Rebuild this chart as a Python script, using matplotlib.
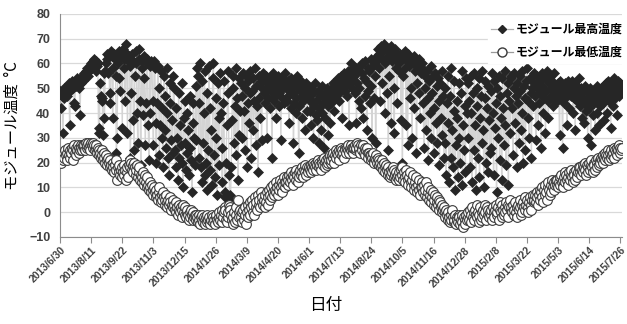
import numpy as np
import pandas as pd
import matplotlib
matplotlib.use("Agg")
from matplotlib import pyplot as plt
from matplotlib.lines import Line2D

plt.rcParams['font.family'] = ['Noto Sans CJK JP', 'DejaVu Sans']

# daily module max temperature (°C), 2013/6/30 - 2015/7/28
tmax_2013 = [49,
    48, 42, 47, 32, 46, 50, 49, 48, 51, 47, 50, 52, 35, 49, 51, 53, 50, 52, 44, 43, 53, 51, 54, 52, 50, 53, 39, 52, 54, 55, 53,
    55, 56, 54, 57, 56, 58, 55, 57, 59, 58, 60, 58, 61, 59, 62, 60, 61, 57, 59, 60, 34, 32, 52, 47, 45, 46, 31, 56, 38, 57, 60,
    62, 64, 56, 63, 44, 48, 65, 63, 38, 58, 64, 62, 55, 24, 30, 60, 65, 54, 49, 63, 65, 34, 66, 62, 58, 45, 68, 64, 32, 61,
    63, 59, 22, 48, 64, 61, 37, 25, 55, 65, 60, 40, 28, 62, 66, 45, 19, 58, 61, 39, 63, 54, 27, 44, 62, 60, 35, 21, 59, 40, 61,
    60, 45, 27, 61, 58, 36, 20, 44, 59, 50, 23, 35, 57, 42, 30, 18, 55, 47, 33, 26, 58, 40, 22, 15, 44, 52, 29, 37, 24, 55,
    50, 25, 18, 42, 30, 13, 48, 22, 35, 27, 52, 20, 10, 38, 45, 28, 17, 24, 40, 33, 15, 47, 26, 21, 8, 36, 44, 30, 19, 51, 29]
tmax_2014 = [
    58, 55, 22, 44, 60, 18, 12, 53, 28, 40, 57, 15, 20, 48, 9, 25, 59, 42, 17, 33, 11, 54, 60, 23, 14, 46, 30, 7, 52, 19, 38,
    56, 40, 26, 12, 44, 53, 8, 6, 20, 35, 48, 57, 15, 7, 5, 18, 37, 55, 50, 28, 43, 23, 58, 46, 13, 31, 54, 41,
    52, 47, 30, 56, 41, 25, 50, 55, 18, 44, 53, 36, 57, 48, 22, 49, 54, 33, 45, 58, 27, 51, 43, 16, 55, 46, 38, 53, 29, 50, 56,
    48, 53, 44, 55, 30, 50, 46, 52, 54, 42, 49, 22, 56, 51, 45, 47, 53, 38, 50, 55, 43, 48, 52, 29, 54, 46, 50, 44, 56, 51,
    50, 45, 53, 47, 36, 49, 54, 42, 51, 48, 28, 44, 52, 46, 40, 55, 50, 24, 43, 49, 53, 47, 38, 45, 51, 33, 48, 52, 41, 46, 50,
    46, 41, 50, 35, 44, 48, 30, 43, 52, 39, 45, 37, 49, 28, 42, 47, 33, 51, 40, 44, 26, 48, 38, 46, 50, 31, 43, 47, 36, 49,
    44, 50, 47, 52, 41, 49, 53, 46, 51, 54, 48, 45, 52, 55, 50, 38, 53, 56, 49, 51, 54, 47, 57, 52, 35, 55, 60, 53, 50, 56, 58,
    55, 48, 58, 36, 52, 57, 45, 50, 59, 42, 56, 60, 38, 54, 47, 61, 53, 33, 49, 58, 57, 44, 62, 51, 30, 59, 46, 60, 55, 28, 61,
    63, 66, 58, 64, 45, 67, 62, 52, 65, 68, 40, 60, 66, 48, 63, 25, 55, 65, 67, 36, 61, 64, 50, 32, 66, 58, 62, 44, 63, 57,
    60, 64, 37, 62, 20, 55, 63, 65, 58, 35, 61, 27, 64, 59, 46, 62, 50, 30, 60, 63, 42, 57, 61, 24, 52, 59, 48, 62, 38, 56, 60,
    58, 44, 26, 55, 50, 33, 57, 46, 21, 53, 40, 59, 30, 48, 55, 24, 42, 56, 36, 51, 28, 54, 45, 19, 52, 38, 57, 31, 47, 22,
    50, 28, 15, 44, 55, 36, 12, 47, 22, 58, 33, 18, 41, 53, 9, 27, 45, 38, 14, 52, 30, 20, 48, 57, 11, 35, 25, 43, 16, 54, 40]
tmax_2015 = [
    52, 30, 45, 18, 55, 40, 12, 48, 25, 56, 35, 9, 50, 43, 22, 54, 14, 38, 47, 28, 57, 33, 10, 46, 53, 20, 42, 16, 51, 37, 24,
    49, 26, 56, 40, 15, 53, 34, 44, 8, 50, 30, 55, 21, 47, 38, 13, 54, 42, 27, 57, 35, 19, 48, 52, 11, 45, 32, 55,
    54, 42, 23, 50, 56, 36, 47, 18, 52, 44, 28, 55, 49, 33, 57, 40, 20, 51, 46, 25, 53, 58, 38, 45, 30, 54, 48, 22, 50, 43, 56,
    52, 47, 29, 55, 50, 35, 44, 53, 48, 26, 56, 51, 40, 46, 54, 32, 49, 57, 45, 38, 52, 55, 47, 50, 53, 43, 56, 49, 51, 46,
    50, 45, 52, 48, 31, 53, 47, 51, 26, 49, 44, 52, 46, 50, 35, 53, 48, 42, 51, 47, 49, 53, 40, 46, 52, 33, 50, 45, 51, 48, 54,
    47, 43, 50, 38, 45, 49, 36, 44, 51, 41, 46, 30, 48, 42, 50, 27, 45, 47, 39, 49, 44, 33, 48, 51, 40, 46, 35, 49, 43, 50,
    48, 44, 51, 37, 49, 46, 52, 40, 47, 53, 45, 50, 34, 48, 52, 43, 49, 54, 46, 51, 39, 50, 53, 47, 52, 48, 51, 50]

# daily module min temperature (°C)
tmin_2013 = [21,
    22, 20, 23, 21, 24, 22, 25, 23, 21, 24, 26, 23, 25, 22, 24, 26, 21, 25, 27, 24, 23, 26, 25, 27, 24, 26, 25, 27, 26, 25, 27,
    26, 27, 25, 28, 26, 27, 28, 26, 27, 25, 28, 27, 26, 28, 27, 25, 26, 27, 24, 26, 25, 23, 24, 22, 25, 23, 21, 24, 22, 20, 23,
    21, 19, 22, 20, 18, 21, 19, 17, 20, 18, 16, 19, 21, 17, 13, 18, 16, 19, 15, 17, 18, 14, 16, 19, 15, 17, 13, 16, 18, 14,
    19, 21, 18, 20, 17, 19, 16, 20, 18, 15, 17, 19, 14, 16, 18, 13, 15, 12, 14, 16, 11, 13, 15, 12, 10, 14, 11, 9, 12, 10, 8,
    11, 9, 7, 10, 8, 6, 9, 7, 5, 8, 10, 6, 4, 7, 5, 8, 6, 3, 5, 7, 4, 2, 5, 3, 6, 4, 1, 3, 5, 2,
    3, 1, 4, 0, 2, -1, 3, 1, 0, 2, -2, 1, 3, 0, -1, 2, -2, 0, 1, -1, -3, 0, -2, 1, -1, -3, 0, -2, -1, -3, -1]
tmin_2014 = [
    -2, -4, -1, -3, -5, -2, -3, -1, -4, -2, -3, -5, -2, -4, -1, -3, -2, -4, -5, -3, -1, -2, -4, -3, -5, -2, -1, -3, -4, -2, 0,
    -3, -1, -4, 1, -2, 0, 2, 1, -3, -4, -2, 0, 3, 2, 1, -1, -3, -5, -2, 0, -4, -1, 2, -3, 5, 0, -2, 1,
    -2, 0, -4, 1, -3, 2, -1, -5, 0, 3, -2, 1, 4, -1, 2, 5, 0, 3, -1, 6, 2, 4, 1, 7, 3, 5, 2, 8, 4, 6, 3,
    5, 2, 7, 4, 8, 3, 6, 9, 5, 7, 10, 6, 8, 11, 7, 9, 12, 8, 10, 7, 11, 9, 13, 10, 8, 12, 11, 14, 10, 12,
    12, 14, 11, 13, 15, 12, 14, 16, 13, 11, 15, 14, 16, 13, 17, 15, 12, 16, 14, 17, 15, 18, 16, 14, 17, 19, 16, 15, 18, 17, 16,
    18, 17, 19, 16, 18, 20, 17, 19, 18, 20, 17, 19, 21, 18, 20, 19, 17, 21, 20, 19, 22, 20, 18, 21, 19, 22, 20, 21, 23, 20,
    21, 23, 22, 24, 20, 23, 25, 22, 24, 23, 25, 21, 24, 26, 23, 25, 24, 22, 26, 25, 24, 26, 25, 27, 24, 26, 25, 27, 26, 24, 26,
    26, 27, 25, 26, 28, 27, 25, 26, 24, 27, 26, 25, 27, 24, 26, 23, 25, 26, 24, 22, 24, 23, 21, 23, 22, 24, 21, 20, 22, 23, 21,
    20, 22, 21, 19, 20, 18, 21, 19, 17, 20, 18, 16, 19, 17, 15, 18, 16, 14, 17, 15, 16, 18, 14, 17, 15, 13, 16, 14, 15, 13,
    16, 14, 17, 15, 18, 13, 16, 14, 12, 17, 15, 13, 11, 14, 16, 12, 10, 13, 15, 11, 9, 12, 14, 10, 8, 11, 13, 9, 7, 10, 12,
    10, 8, 11, 7, 9, 12, 6, 8, 10, 5, 7, 9, 4, 6, 8, 3, 5, 7, 2, 4, 6, 3, 5, 1, 4, 2, 0, 3, 1, 2,
    0, -2, 1, -1, -3, 0, -2, -4, -1, -3, 1, -2, -4, -3, -1, -5, -2, -3, -4, -1, -2, -5, -3, -1, -4, -6, -2, -3, -5, -1, -3]
tmin_2015 = [
    -2, 0, -3, 1, -1, -4, 2, -2, 0, -3, 1, -1, 3, -2, 0, -4, -1, 2, -3, 0, -2, 1, -1, 3, 0, -3, 2, -1, 1, -2, 0,
    -1, 1, -3, 2, 0, -2, 1, 3, -1, 0, 2, -3, 1, 4, 0, -2, 3, 1, -1, 2, 0, 4, 1, -2, 3, 2, 5, 1,
    2, 0, 3, -1, 1, 4, 0, 2, -2, 3, 1, 5, 2, -1, 3, 0, 4, 2, 6, 1, 3, 5, 2, 0, 4, 6, 3, 1, 5, 7, 4,
    5, 7, 4, 8, 6, 3, 7, 9, 5, 8, 10, 6, 4, 9, 7, 11, 8, 5, 10, 12, 9, 7, 11, 8, 13, 10, 12, 9, 11, 13,
    11, 13, 10, 12, 14, 11, 15, 12, 10, 13, 14, 16, 12, 15, 13, 11, 14, 16, 13, 15, 17, 14, 12, 16, 15, 13, 17, 15, 14, 16, 18,
    16, 18, 15, 17, 19, 16, 18, 20, 17, 15, 19, 18, 16, 20, 17, 19, 21, 18, 16, 20, 19, 17, 21, 20, 18, 22, 19, 21, 20, 22,
    21, 23, 20, 22, 24, 21, 23, 22, 25, 23, 21, 24, 22, 25, 23, 24, 26, 22, 25, 24, 26, 23, 25, 27, 24, 26, 25, 26]

tmax = tmax_2013 + tmax_2014 + tmax_2015
tmin = tmin_2013 + tmin_2014 + tmin_2015

dates = pd.date_range('2013-06-30', periods=len(tmax), freq='D')
tick_dates = pd.date_range('2013-06-30', dates[-1], freq='42D')
tick_labels = [f"{d.year}/{d.month}/{d.day}" for d in tick_dates]

fig = plt.figure(figsize=(6.27, 3.24), dpi=100)
ax = fig.add_axes([0.0957, 0.269, 0.896, 0.688])

ax.plot(dates, tmax, color='#d4d4d4', lw=1.0, marker='D', ms=5.4,
        mfc='#262626', mec='#262626', mew=0.5, zorder=3)
ax.plot(dates[:len(tmin)], tmin, color='#9a9a9a', lw=0.8, marker='o', ms=7.0,
        mfc='white', mec='#3a3a3a', mew=0.8, zorder=4)

ax.set_ylim(-10, 80)
ax.set_yticks(range(-10, 81, 10))
ax.set_xlim(dates[0], dates[-1])
ax.set_xticks(tick_dates)
ax.set_xticklabels(tick_labels, rotation=45, ha='right', rotation_mode='anchor',
                   fontsize=7.5, fontweight='bold', color='#404040', family='Liberation Sans')
for lab in ax.get_yticklabels():
    lab.set_fontsize(9)
    lab.set_fontweight('bold')
    lab.set_color('#404040')
    lab.set_family('Liberation Sans')

ax.grid(axis='y', color='#d9d9d9', lw=0.9, zorder=0)
ax.set_axisbelow(True)
for s in ['top', 'right']:
    ax.spines[s].set_visible(False)
ax.spines['left'].set_color('#8c8c8c')
ax.spines['bottom'].set_color('#8c8c8c')
ax.tick_params(axis='x', length=4, color='#8c8c8c', pad=2)
ax.tick_params(axis='y', length=0, pad=7)

ax.set_ylabel('モジュール温度  °C', fontsize=11, labelpad=6)
fig.text(0.52, 0.057, '日付', fontsize=12, ha='center', va='center')

handles = [
    Line2D([], [], color='#b0b0b0', lw=0.9, marker='D', ms=4, mfc='#262626', mec='#262626'),
    Line2D([], [], color='#9a9a9a', lw=0.9, marker='o', ms=6.5, mfc='white', mec='#3a3a3a'),
]
leg = fig.legend(handles, ['モジュール最高温度', 'モジュール最低温度'], loc='upper left',
                 bbox_to_anchor=(0.778, 0.94), frameon=True, fancybox=False,
                 edgecolor='white', facecolor='white', framealpha=1,
                 handlelength=1.8, handletextpad=0.25, labelspacing=0.85,
                 prop={'size': 8.6, 'weight': 'bold'}, borderpad=0.3, borderaxespad=0)

fig.savefig('out.png', dpi=100)
